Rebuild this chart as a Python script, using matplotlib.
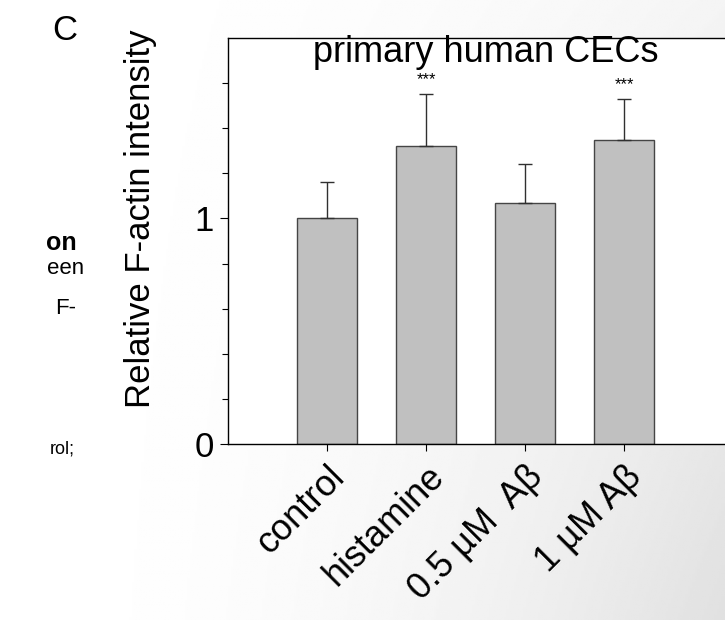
import numpy as np
import matplotlib.pyplot as plt

plt.rcParams['font.family'] = ['Liberation Sans', 'DejaVu Sans']

# data
groups = ['control', 'histamine', '0.5 \u00b5M  A\u03b2', '1 \u00b5M A\u03b2']
means = [1.00, 1.32, 1.07, 1.35]
errs = [0.16, 0.23, 0.17, 0.18]
stars = ['', '***', '', '***']

fig = plt.figure(figsize=(7.25, 6.2), dpi=100)

# light slide gradient behind everything
bg = fig.add_axes([0, 0, 1, 1], zorder=-10)
gx, gy = np.meshgrid(np.linspace(0, 1, 300), np.linspace(0, 1, 300))
shade = 1 - 0.12 * gx ** 2 * (0.35 + 0.65 * gy)
bg.imshow(shade, cmap='gray', vmin=0, vmax=1, extent=[0, 1, 0, 1],
          aspect='auto', origin='upper')
bg.set_axis_off()

# left page fragments
fig.text(52 / 725, 1 - 30 / 620, 'C', fontsize=25, va='center', ha='left')
fig.text(46 / 725, 1 - 243 / 620, 'on', fontsize=18, fontweight='bold', va='center')
fig.text(47 / 725, 1 - 269 / 620, 'een', fontsize=16, va='center')
fig.text(55 / 725, 1 - 308 / 620, 'F-', fontsize=16, va='center')
fig.text(50 / 725, 1 - 449 / 620, 'rol;', fontsize=13, va='center')

ax = fig.add_axes([228 / 725, 1 - 444 / 620, 497 / 725, 406 / 620])
ax.set_facecolor('white')
x = np.arange(len(groups))
ax.bar(x, means, width=0.6, color='#c0c0c0', edgecolor='#454545', linewidth=1.0)
ax.errorbar(x, means, yerr=[np.zeros(len(errs)), errs], fmt='none',
            ecolor='#303030', elinewidth=1.0, capsize=5, capthick=1.0)
for xi, m, e, s in zip(x, means, errs, stars):
    if s:
        ax.text(xi, m + e + 0.03, s, ha='center', va='bottom', fontsize=12)

ax.set_xlim(-1.0, 4.02)
ax.set_ylim(0, 1.8)
ax.set_yticks([0, 1])
ax.set_yticklabels(['0', '1'], fontsize=25)
ax.set_yticks(np.arange(0, 1.61, 0.2), minor=True)
ax.tick_params(axis='y', which='both', direction='out', length=6, width=0.8, pad=4)
ax.tick_params(axis='y', which='minor', length=4)
ax.set_xticks(x)
ax.set_xticklabels(groups, rotation=45, ha='right', rotation_mode='anchor',
                   fontsize=26)
ax.tick_params(axis='x', direction='out', length=5, width=0.8, pad=6)
ax.spines['right'].set_visible(False)
for s in ['left', 'top', 'bottom']:
    ax.spines[s].set_linewidth(1.0)
ax.set_ylabel('Relative F-actin intensity', fontsize=25)
ax.yaxis.set_label_coords(-0.143, 0.555)
ax.text(1.6, 1.735, 'primary human CECs', ha='center', va='center', fontsize=26)

fig.savefig('out.png', dpi=100)
